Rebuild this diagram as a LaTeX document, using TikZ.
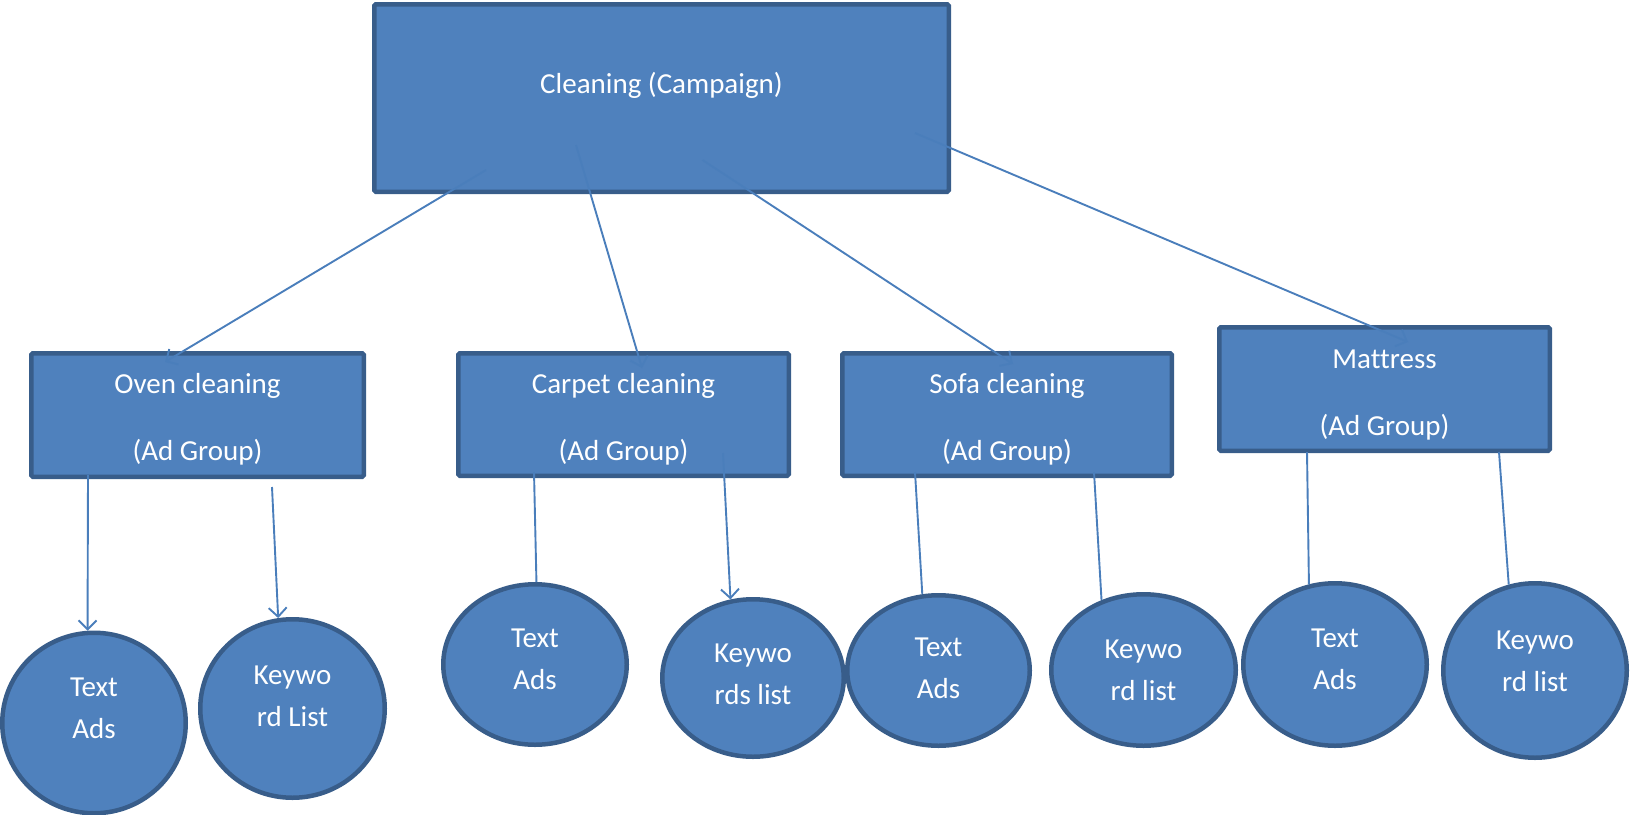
\documentclass[tikz,border=0pt]{standalone}
\usepackage{fontspec}
\setmainfont{Carlito}[Ligatures=NoCommon]
\usetikzlibrary{arrows.meta,shapes.geometric}
\definecolor{boxfill}{HTML}{4F81BD}
\definecolor{boxline}{HTML}{385D8A}
\definecolor{conn}{HTML}{4A7EBB}
\begin{document}
\begin{tikzpicture}[x=1pt,y=-1pt,
  boxnode/.style={rectangle, draw=boxline, fill=boxfill, line width=4.5pt, rounded corners=1.5pt, inner sep=0pt},
  boxtext/.style={text=white, align=center, font=\fontsize{29}{67}\selectfont},
  ovalnode/.style={ellipse, draw=boxline, fill=boxfill, line width=4.5pt, inner sep=0pt},
  ovaltext/.style={text=white, align=center, font=\fontsize{29}{42}\selectfont},
  link/.style={draw=conn, line width=1.9pt},
  arrowlink/.style={link, -{Straight Barb[length=9pt,width=18pt]}}
]
\useasboundingbox (0,0) rectangle (1632,814);

% campaign
\node[boxnode, minimum width=574.5pt, minimum height=187.5pt,
  label={[ovaltext,yshift=13pt]center:Cleaning (Campaign)}] (top) at (661.5,98) {};

% ad groups
\node[boxnode, minimum width=332.5pt, minimum height=123.5pt,
  label={[boxtext,yshift=-4.5pt]center:Oven cleaning\\(Ad Group)}] (oven) at (197.5,415) {};
\node[boxnode, minimum width=330.5pt, minimum height=122.5pt,
  label={[boxtext,yshift=-4.5pt]center:Carpet cleaning\\(Ad Group)}] (carpet) at (623.5,414.5) {};
\node[boxnode, minimum width=329.5pt, minimum height=122.5pt,
  label={[boxtext,yshift=-4.5pt]center:Sofa cleaning\\(Ad Group)}] (sofa) at (1007,414.5) {};
\node[boxnode, minimum width=330.5pt, minimum height=123.5pt,
  label={[boxtext,yshift=-6pt]center:Mattress\\(Ad Group)}] (mattress) at (1384.5,389) {};

% leaves
\node[ovalnode, minimum width=183.5pt, minimum height=180.5pt,
  label={[ovaltext,yshift=15pt]center:Text\\Ads}] (oTA) at (94,723) {};
\node[ovalnode, minimum width=184.5pt, minimum height=178.5pt,
  label={[ovaltext,yshift=12pt]center:Keywo\\rd List}] (oKL) at (292.5,708.5) {};
\node[ovalnode, minimum width=183.5pt, minimum height=160.5pt,
  label={[ovaltext,yshift=5pt]center:Text\\Ads}] (cTA) at (535,664.5) {};
\node[ovalnode, minimum width=181.5pt, minimum height=157.5pt,
  label={[ovaltext,yshift=4pt]center:Keywo\\rds list}] (cKL) at (753,678) {};
\node[ovalnode, minimum width=182.5pt, minimum height=150.5pt,
  label={[ovaltext,yshift=2pt]center:Text\\Ads}] (sTA) at (938.5,670.5) {};
\node[ovalnode, minimum width=184.5pt, minimum height=151.5pt,
  label={[ovaltext,yshift=0pt]center:Keywo\\rd list}] (sKL) at (1143.5,670) {};
\node[ovalnode, minimum width=183.5pt, minimum height=162.5pt,
  label={[ovaltext,yshift=5pt]center:Text\\Ads}] (mTA) at (1335,664.5) {};
\node[ovalnode, minimum width=183.5pt, minimum height=174.5pt,
  label={[ovaltext,yshift=9pt]center:Keywo\\rd list}] (mKL) at (1535,670.5) {};

% connector start points inside parents, and tips inside child boxes
\coordinate (s1) at (486,170);  \coordinate (e1) at (165,362);
\coordinate (s2) at (576,145);  \coordinate (e2) at (642,368);
\coordinate (s3) at (702.5,160);\coordinate (e3) at (1013,364);
\coordinate (s4) at (915,133);  \coordinate (e4) at (1408,342);
\coordinate (s5) at (88,475);
\coordinate (s6) at (272,487);
\coordinate (s7) at (534,472);
\coordinate (s8) at (723,453);
\coordinate (s9) at (915,472);
\coordinate (s10) at (1094,472);
\coordinate (s11) at (1307,452);
\coordinate (s12) at (1499,452);

\draw[arrowlink] (s1) -- (e1);
\draw[arrowlink] (s2) -- (e2);
\draw[arrowlink] (s3) -- (e3);
\draw[arrowlink] (s4) -- (e4);
\draw[arrowlink] (s5) -- (oTA.94);
\draw[arrowlink] (s6) -- (oKL.99);
\draw[link] (s7) -- (cTA.89);
\draw[arrowlink] (s8) -- (cKL.106);
\draw[link] (s9) -- (sTA.102);
\draw[link] (s10) -- (sKL.121);
\draw[link] (s11) -- (mTA.108);
\draw[link] (s12) -- (mKL.107);
\end{tikzpicture}
\end{document}
